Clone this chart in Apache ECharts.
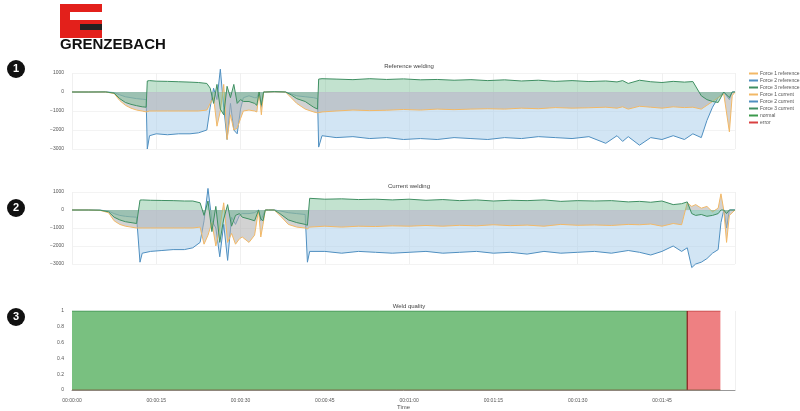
<!DOCTYPE html>
<html><head><meta charset="utf-8">
<script src="https://cdn.jsdelivr.net/npm/echarts@6/dist/echarts.min.js"></script>
<style>html,body{margin:0;background:#fff}#c{width:800px;height:411px}</style>
</head><body><div id="c"></div>
<script>
const T1=[0,3,6,7.5,8.5,9.5,10.5,11.5,12.5,13.2,13.4,13.8,15,17,19,21,22.5,24,24.6,25.2,25.8,26.4,27,27.6,28.2,28.8,29.4,30,30.5,31.5,32.5,32.9,33.3,33.7,34.1,34.5,36,38,39,40,41.5,43,43.7,43.9,44.5,47,50,53,56,59,62,65,68,71,74,77,80,83,86,89,92,95,97,98,99,101,103,105,107,109,110.5,112,113,114,115,116,117,117.5,118];
const F1ref=[0,0,0,-80,-450,-700,-850,-950,-1000,-1050,-1000,-1000,-1000,-1000,-1000,-1000,-1000,-950,-600,-300,-1800,-1000,400,-2500,-1200,-2000,-1900,-1400,-1000,-950,-1000,-1050,0,-1200,0,0,10,0,-300,-600,-900,-1050,-1100,-1000,-1050,-1000,-950,-980,-960,-920,-950,-900,-930,-900,-880,-900,-850,-880,-820,-850,-830,-800,-850,-780,-900,-750,-800,-850,-780,-820,-800,-900,-700,-500,-300,-100,-2100,-200,0];
const F2ref=[0,0,0,-30,-150,-250,-300,-350,-380,-400,-3000,-2300,-2200,-2250,-2200,-2200,-2150,-2000,-800,200,-400,1200,-800,-2500,-600,-2000,-2200,-900,-300,-200,-300,-300,0,-800,0,0,10,0,-100,-200,-250,-300,-350,-2900,-2300,-2400,-2350,-2450,-2400,-2500,-2450,-2500,-2400,-2450,-2500,-2400,-2450,-2350,-2400,-2450,-2350,-2700,-2300,-2600,-2350,-2800,-2400,-2500,-2300,-2500,-2200,-2400,-1500,-800,-300,0,-400,0,0];
const F3ref=[0,0,5,-60,-350,-550,-650,-720,-780,-800,580,600,570,560,540,520,500,450,200,-600,400,-900,-1200,300,-300,400,-600,-400,-500,-500,-600,-700,0,-700,0,0,20,0,-150,-350,-500,-800,-900,680,700,680,650,700,660,690,640,660,620,650,600,640,580,620,560,600,550,580,530,600,450,620,540,500,560,520,550,-200,-400,-500,-550,0,-300,0,0];
const T2=[0,3,5,6.5,7.5,8.5,9.5,10.5,11.5,11.8,12.1,12.5,14,16,18,20,21.5,22.8,23.5,24.2,24.9,25.6,26.3,27,27.7,28.4,29.1,29.8,30.3,31.5,32.5,33.2,33.6,34,34.4,35,36,37,38.5,40,41.5,41.9,42.3,45,48,51,54,57,60,63,66,69,72,75,78,81,84,87,90,93,96,99,101,103,105,107,108.5,109.5,110.3,111,112,113,114,115,115.5,116,116.5,117,118];
const F1cur=[0,0,-20,-150,-600,-800,-900,-950,-1000,-1000,-1000,-1000,-1000,-1000,-1000,-1000,-1000,-950,-1900,-1400,-700,-2000,-1000,400,-1800,-1300,-1900,-1600,-1500,-1800,-1400,0,-1500,-800,0,0,0,-300,-800,-950,-1000,-1050,-950,-900,-950,-900,-920,-880,-900,-860,-900,-850,-880,-820,-870,-840,-900,-800,-850,-830,-860,-800,-820,-780,-900,-750,-820,400,200,300,100,200,-100,100,900,0,-1800,-300,0];
const F2cur=[0,0,-10,-60,-200,-300,-350,-380,-400,-400,-2900,-2400,-2300,-2250,-2200,-2200,-2100,-1800,-600,1200,-600,-1000,-2600,-800,-2800,-400,-800,-300,-200,-200,-150,0,-600,-300,0,0,0,-50,-150,-200,-250,-2900,-2300,-2300,-2400,-2300,-2350,-2400,-2350,-2300,-2400,-2350,-2300,-2400,-2350,-2450,-2300,-2400,-2350,-2300,-2400,-2250,-2350,-2500,-2300,-2000,-2300,-2100,-3200,-3000,-2900,-2700,-2400,-2200,-700,0,-1000,0,0];
const F3cur=[0,0,-10,-100,-400,-550,-650,-700,-750,-780,550,560,540,530,520,500,500,400,-300,500,-1200,200,-1800,-500,300,-900,-300,-200,-400,-500,-600,0,-500,-600,0,0,0,-200,-550,-700,-800,-850,650,600,620,580,600,560,600,540,580,520,560,500,540,520,560,480,520,500,520,450,480,430,500,300,350,450,-200,-300,-250,-350,-300,-200,0,0,-200,0,0];
const normalSpan=[0,109.5];
const errorSpan=[109.5,115.4];

const zip=(t,v)=>t.map((x,i)=>[x,v[i]]);
const fmt=s=>{s=Math.round(s);const m=Math.floor(s/60),ss=s%60;return '00:'+String(m).padStart(2,'0')+':'+String(ss).padStart(2,'0');};
const C={o:'#f2b866',b:'#4f8fc0',ba:'rgba(170,205,235,0.75)',g:'#3f8f62',ga:'rgba(110,185,140,0.6)',gr:'rgba(175,175,175,0.8)'};
const grids=[{left:72,right:65,top:73,height:76},{left:72,right:65,top:192,height:72},{left:72,right:65,top:311,height:83}];
const xa=i=>({type:'value',gridIndex:i,min:0,max:118,interval:15,axisLine:{show:i==2,lineStyle:{color:'#999'}},axisTick:{show:false},
  axisLabel:{show:i==2,fontSize:5,color:'#555',formatter:fmt,showMaxLabel:false},splitLine:{show:true,lineStyle:{color:'#f0f0f0'}},
  name:i==2?'Time':'',nameLocation:'middle',nameGap:10,nameTextStyle:{fontSize:6,color:'#555'}});
const ya=i=>i<2?{type:'value',gridIndex:i,min:-3000,max:1000,interval:1000,axisLine:{show:false},axisTick:{show:false},
  axisLabel:{fontSize:5,color:'#555',formatter:v=>String(v).replace('-','\u2212')},splitLine:{lineStyle:{color:'#f3f3f3'}}}
 :{type:'value',gridIndex:i,min:0,max:1,interval:0.2,axisLine:{show:false},axisTick:{show:false},axisLabel:{fontSize:5,color:'#555'},splitLine:{show:false}};
const ls=(name,gi,t,v,c,a,z)=>({name,type:'line',xAxisIndex:gi,yAxisIndex:gi,data:zip(t,v),symbol:'none',clip:false,z,
  lineStyle:{color:c,width:1},itemStyle:{color:c},areaStyle:{color:a,origin:0}});
const series=[
 ls('Force 2 reference',0,T1,F2ref,C.b,C.ba,2),ls('Force 1 reference',0,T1,F1ref,C.o,C.gr,3),ls('Force 3 reference',0,T1,F3ref,C.g,C.ga,4),
 ls('Force 2 current',1,T2,F2cur,C.b,C.ba,2),ls('Force 1 current',1,T2,F1cur,C.o,C.gr,3),ls('Force 3 current',1,T2,F3cur,C.g,C.ga,4),
 {name:'normal',type:'line',xAxisIndex:2,yAxisIndex:2,symbol:'none',data:normalSpan.map(x=>[x,1]),lineStyle:{color:'#3f8f50',width:1},itemStyle:{color:'#3c9a4c'},areaStyle:{color:'#79c080',opacity:1}},
 {name:'error',type:'line',xAxisIndex:2,yAxisIndex:2,symbol:'none',data:errorSpan.map(x=>[x,1]),lineStyle:{color:'#c04040',width:1},itemStyle:{color:'#d94040'},areaStyle:{color:'#ee8082',opacity:1}},
 {type:'line',xAxisIndex:2,yAxisIndex:2,symbol:'none',silent:true,data:[[errorSpan[0],0],[errorSpan[0],1]],lineStyle:{color:'#8a1a1a',width:1.2}},
 {type:'line',xAxisIndex:2,yAxisIndex:2,symbol:'none',silent:true,data:[[0,0],[errorSpan[1],0]],lineStyle:{color:'#7a5a3a',width:1}}
];
const circ=(y,n)=>({type:'group',left:7,top:y,children:[{type:'circle',shape:{cx:9,cy:9,r:9},style:{fill:'#111'}},{type:'text',style:{text:n,x:9,y:9,fill:'#fff',font:'bold 11px Arial',align:'center',verticalAlign:'middle'}}]});
const chart=echarts.init(document.getElementById('c'));
chart.setOption({animation:false,
 title:[{text:'Reference welding',left:404,top:58,textAlign:'center',textStyle:{fontSize:6,fontWeight:'normal',color:'#444'}},
        {text:'Current welding',left:404,top:178,textAlign:'center',textStyle:{fontSize:6,fontWeight:'normal',color:'#444'}},
        {text:'Weld quality',left:404,top:298,textAlign:'center',textStyle:{fontSize:6,fontWeight:'normal',color:'#444'}}],
 legend:{orient:'vertical',left:744,top:66,itemWidth:9,itemHeight:2,itemGap:2,icon:'rect',textStyle:{fontSize:5,color:'#555',padding:[0,0,0,-3]},
  data:['Force 1 reference','Force 2 reference','Force 3 reference','Force 1 current','Force 2 current','Force 3 current','normal','error']},
 grid:grids,xAxis:[0,1,2].map(xa),yAxis:[0,1,2].map(ya),series,
 graphic:[
  {type:'rect',left:60,top:4,shape:{width:42,height:34},style:{fill:'#e3201b'}},
  {type:'rect',left:70,top:12,shape:{width:32,height:8},style:{fill:'#fff'}},
  {type:'rect',left:80,top:24,shape:{width:22,height:6},style:{fill:'#222'}},
  {type:'text',left:60,top:37,style:{text:'GRENZEBACH',fill:'#111',font:'bold 15px "Liberation Sans Narrow", Arial'}},
  circ(60,'1'),circ(199,'2'),circ(308,'3')]
});
</script></body></html>
